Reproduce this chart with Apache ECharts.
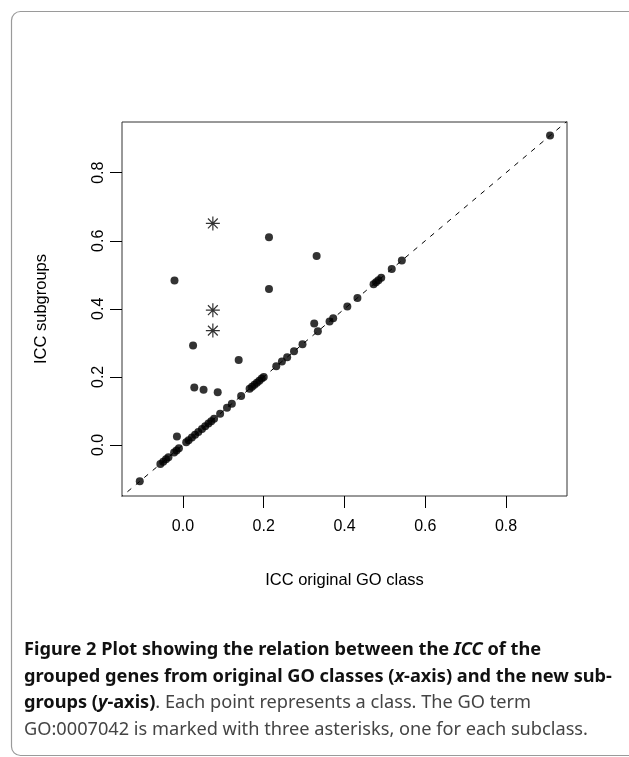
<!DOCTYPE html>
<html>
<head>
<meta charset="utf-8">
<script src="https://cdn.jsdelivr.net/npm/echarts@6/dist/echarts.min.js"></script>
<style>
  html, body { margin: 0; padding: 0; background: #fff; }
  #chart { width: 629px; height: 757px; }
</style>
</head>
<body>
<div id="chart"></div>
<script>
// classes lying on the identity line
var diagX = [-0.107, -0.056, -0.049, -0.042, -0.036, -0.022, -0.016, -0.010, 0.008, 0.014, 0.022, 0.030,
  0.038, 0.047, 0.055, 0.063, 0.070, 0.077, 0.092, 0.109, 0.121, 0.144, 0.165, 0.171, 0.177, 0.183,
  0.189, 0.195, 0.200, 0.231, 0.245, 0.258, 0.275, 0.296, 0.334, 0.363, 0.372, 0.407, 0.432, 0.472,
  0.478, 0.484, 0.491, 0.517, 0.542, 0.909];
var diagY = [-0.107, -0.056, -0.049, -0.042, -0.036, -0.022, -0.016, -0.010, 0.008, 0.014, 0.022, 0.030,
  0.038, 0.047, 0.055, 0.063, 0.070, 0.077, 0.092, 0.109, 0.121, 0.144, 0.165, 0.171, 0.177, 0.183,
  0.189, 0.195, 0.200, 0.231, 0.245, 0.258, 0.275, 0.296, 0.334, 0.363, 0.372, 0.407, 0.432, 0.472,
  0.478, 0.484, 0.491, 0.517, 0.542, 0.909];
// classes off the line
var offX = [-0.021, 0.213, 0.331, 0.213, 0.025, 0.325, 0.138, 0.028, 0.051, 0.086, -0.015];
var offY = [0.483, 0.610, 0.555, 0.458, 0.292, 0.357, 0.250, 0.169, 0.162, 0.155, 0.025];
// GO:0007042 subclasses
var goX = [0.074, 0.074, 0.074];
var goY = [0.651, 0.396, 0.336];
var refLine = [-0.2, 1.0];
var tickVals = [0, 0.2, 0.4, 0.6, 0.8];

function pairs(xs, ys) {
  return xs.map(function (v, i) { return [v, ys[i]]; });
}

var chart = echarts.init(document.getElementById('chart'));
var axisFont = 'Liberation Sans, Arial, sans-serif';
var capFont = 'Noto Sans, Open Sans, sans-serif';

var option = {
  animation: false,
  backgroundColor: '#fff',
  grid: {
    left: 122, top: 122, width: 445, height: 374,
    show: true, borderColor: '#333', borderWidth: 1
  },
  xAxis: {
    type: 'value',
    min: -0.151, max: 0.951,
    splitLine: { show: false },
    axisLine: { show: false, onZero: false },
    axisTick: { show: true, length: 12, inside: false, customValues: tickVals, lineStyle: { color: '#000' } },
    axisLabel: {
      customValues: tickVals, margin: 23, color: '#000', fontSize: 16, fontFamily: axisFont,
      formatter: function (v) { return v.toFixed(1); }
    },
    name: 'ICC original GO class',
    nameLocation: 'middle', nameGap: 76,
    nameTextStyle: { color: '#000', fontSize: 16.5, fontFamily: axisFont }
  },
  yAxis: {
    type: 'value',
    min: -0.150, max: 0.949,
    splitLine: { show: false },
    axisLine: { show: false, onZero: false },
    axisTick: { show: true, length: 12, inside: false, customValues: tickVals, lineStyle: { color: '#000' } },
    axisLabel: {
      customValues: tickVals, margin: 15, rotate: 90, color: '#000', fontSize: 16, fontFamily: axisFont,
      formatter: function (v) { return v.toFixed(1); }
    },
    name: 'ICC subgroups',
    nameLocation: 'middle', nameGap: 72,
    nameTextStyle: { color: '#000', fontSize: 16.5, fontFamily: axisFont }
  },
  series: [
    {
      type: 'line',
      data: pairs(refLine, refLine),
      symbol: 'none',
      clip: true,
      lineStyle: { color: '#000', width: 1, type: [5, 6] },
      z: 1
    },
    {
      type: 'scatter',
      data: pairs(diagX, diagY),
      symbol: 'circle', symbolSize: 8,
      itemStyle: { color: '#000' },
      z: 2
    },
    {
      type: 'scatter',
      data: pairs(offX, offY),
      symbol: 'circle', symbolSize: 8,
      itemStyle: { color: '#000' },
      z: 2
    },
    {
      type: 'scatter',
      data: pairs(goX, goY),
      symbol: 'path://M0,-1L0,1M-1,0L1,0M-0.7,-0.7L0.7,0.7M-0.7,0.7L0.7,-0.7',
      symbolSize: 14,
      itemStyle: { color: 'none', borderColor: '#000', borderWidth: 1.2 },
      z: 3
    }
  ],
  graphic: [
    {
      type: 'rect', left: 9, top: 9, z: -1,
      shape: { width: 640, height: 744, r: 9 },
      style: { fill: 'none', stroke: '#9a9a9a', lineWidth: 1.2 }
    },
    {
      type: 'text', left: 24, top: 641,
      style: {
        text: '{b|Figure 2 Plot showing the relation between the }{bi|ICC}{b| of the}\n' +
              '{b|grouped genes from original GO classes (}{bi|x}{b|-axis) and the new sub-}\n' +
              '{b|groups (}{bi|y}{b|-axis)}{n|. Each point represents a class. The GO term}\n' +
              '{n|GO:0007042 is marked with three asterisks, one for each subclass.}',
        rich: {
          b: { fontFamily: capFont, fontWeight: 'bold', fontSize: 18.2, fill: '#111', lineHeight: 26.5 },
          bi: { fontFamily: capFont, fontWeight: 'bold', fontStyle: 'italic', fontSize: 18.2, fill: '#111', lineHeight: 26.5 },
          n: { fontFamily: capFont, fontSize: 18.2, fill: '#444', lineHeight: 26.5 }
        }
      }
    }
  ]
};

chart.setOption(option);
</script>
</body>
</html>
